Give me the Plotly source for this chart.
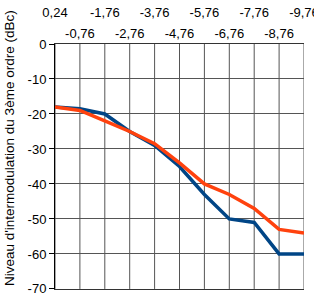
import plotly.graph_objects as go

x_vals = [0.24, -0.76, -1.76, -2.76, -3.76, -4.76, -5.76, -6.76, -7.76, -8.76, -9.76]
x_labels = ["0,24", "-0,76", "-1,76", "-2,76", "-3,76", "-4,76", "-5,76", "-6,76", "-7,76", "-8,76", "-9,76"]
serie_bleue = [-18, -18.5, -20, -25, -29, -35, -43, -50, -51, -60, -60]
serie_orange = [-18, -19, -22, -25, -28.5, -34, -40, -43, -47, -53, -54]
y_ticks = [0, -10, -20, -30, -40, -50, -60, -70]
y_title = "Niveau d'intermodulation du 3ème ordre (dBc)"

font = dict(family="Liberation Sans, Arial, sans-serif", size=13, color="#000000")

fig = go.Figure()
fig.add_trace(go.Scatter(x=x_vals, y=serie_bleue, mode="lines",
                         line=dict(color="#004586", width=3.5), showlegend=False))
fig.add_trace(go.Scatter(x=x_vals, y=serie_orange, mode="lines",
                         line=dict(color="#ff420e", width=3.5), showlegend=False))
fig.add_trace(go.Scatter(x=x_vals, y=serie_orange, mode="lines", xaxis="x2",
                         line=dict(color="rgba(0,0,0,0)", width=0), showlegend=False,
                         hoverinfo="skip"))

rng = [0.2402, -9.7602]
fig.update_layout(
    width=314, height=296,
    margin=dict(l=55, r=10, t=44, b=7, autoexpand=False),
    paper_bgcolor="white", plot_bgcolor="white",
    font=font,
    xaxis=dict(range=rng, side="top", tickvals=x_vals[1::2], ticktext=x_labels[1::2],
               showgrid=False, zeroline=False, ticks="", showline=True,
               linecolor="#333333", mirror=True, tickfont=font,
               ticklabeloverflow="allow", automargin=False),
    xaxis2=dict(range=rng, side="top", overlaying="x", anchor="y",
                tickvals=x_vals[0::2], ticktext=x_labels[0::2],
                ticks="outside", ticklen=21, tickcolor="rgba(0,0,0,0)",
                showgrid=False, zeroline=False, showline=False, tickfont=font,
                ticklabeloverflow="allow", automargin=False),
    yaxis=dict(range=[-70.02, 0], tickvals=y_ticks, ticktext=[str(v) for v in y_ticks],
               showgrid=True, gridcolor="#555555", gridwidth=1, zeroline=False,
               ticks="outside", ticklen=5, tickcolor="#000000",
               showline=True, linecolor="#000000", linewidth=1,
               tickfont=font, ticklabeloverflow="allow", automargin=False),
    annotations=[dict(text=y_title, xref="paper", yref="paper",
                      x=-0.18, y=0.576, xanchor="center", yanchor="middle",
                      textangle=-90, showarrow=False,
                      font=dict(family="Liberation Sans, Arial, sans-serif", size=13.5, color="#000000"))],
)
for xv in x_vals:
    fig.add_shape(type="line", xref="x", yref="y", x0=xv, x1=xv, y0=-70, y1=0,
                  line=dict(color="#555555", width=1), layer="below")

fig.write_html("out.html")
